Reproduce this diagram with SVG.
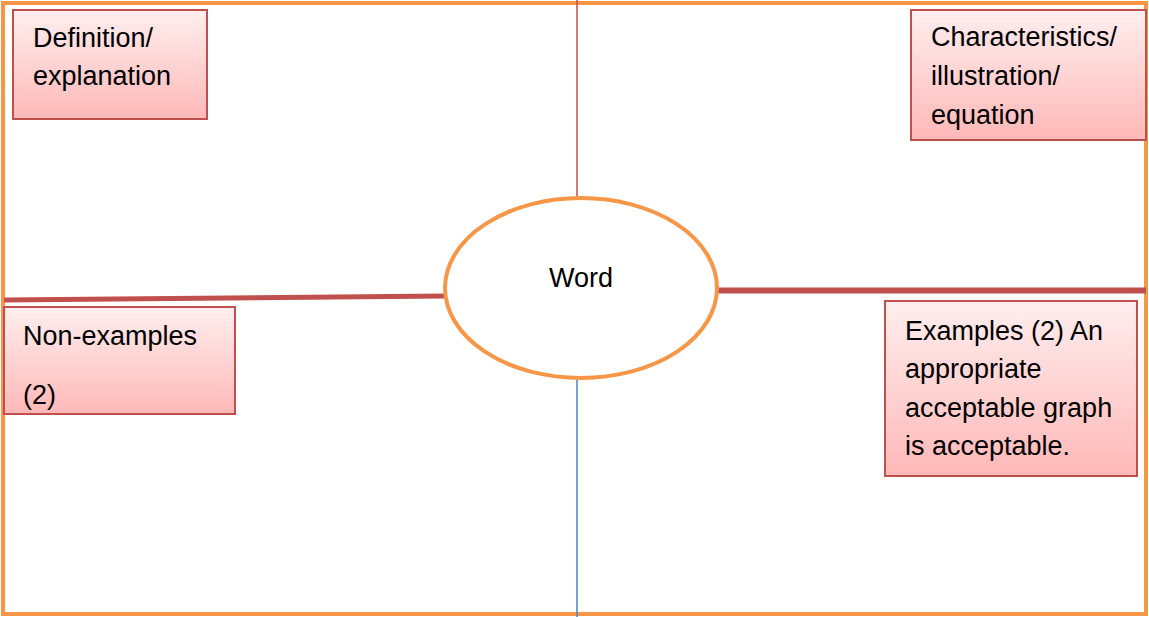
<svg xmlns="http://www.w3.org/2000/svg" width="1149" height="617" viewBox="0 0 1149 617">
<style>
.box{stroke:#C0504D;stroke-width:2;fill:url(#pink)}
.t{font-family:"Liberation Sans",Arial,sans-serif;font-size:27px;fill:#000}
.conn{fill:none;stroke:#C0504D}
</style>
<defs>
<linearGradient id="pink" x1="0" y1="0" x2="0" y2="1">
<stop offset="0" stop-color="#FFEEEE"/>
<stop offset="1" stop-color="#FFB8B8"/>
</linearGradient>
</defs>
<rect x="0" y="0" width="1149" height="617" fill="#fff"/>
<rect id="frame" x="3" y="3" width="1143" height="611" fill="none" stroke="#F79646" stroke-width="4"/>
<g id="connectors">
<line class="conn" x1="577" y1="0" x2="577" y2="197" stroke-width="1.5"/>
<line x1="577" y1="380" x2="577" y2="617" stroke="#4F81BD" stroke-width="1.5"/>
<line class="conn" x1="4" y1="300" x2="445" y2="296" stroke-width="5"/>
<line class="conn" x1="717" y1="290.5" x2="1146" y2="290.5" stroke-width="6"/>
</g>
<g id="word">
<ellipse cx="581" cy="288" rx="136" ry="90" fill="#fff" stroke="#F79646" stroke-width="4"/>
<text class="t" x="581" y="287" text-anchor="middle">Word</text>
</g>
<g id="definition">
<rect class="box" x="13" y="10" width="194" height="109"/>
<text class="t" x="33" y="47">Definition/</text>
<text class="t" x="33" y="85">explanation</text>
</g>
<g id="characteristics">
<rect class="box" x="911" y="10" width="235" height="130"/>
<text class="t" x="931" y="46">Characteristics/</text>
<text class="t" x="931" y="85">illustration/</text>
<text class="t" x="931" y="124">equation</text>
</g>
<g id="nonexamples">
<rect class="box" x="4" y="307" width="231" height="107"/>
<text class="t" x="23" y="345">Non-examples</text>
<text class="t" x="23" y="404">(2)</text>
</g>
<g id="examples">
<rect class="box" x="885" y="301" width="252" height="175"/>
<text class="t" x="905" y="340">Examples (2) An</text>
<text class="t" x="905" y="378">appropriate</text>
<text class="t" x="905" y="417">acceptable graph</text>
<text class="t" x="905" y="455">is acceptable.</text>
</g>
</svg>
